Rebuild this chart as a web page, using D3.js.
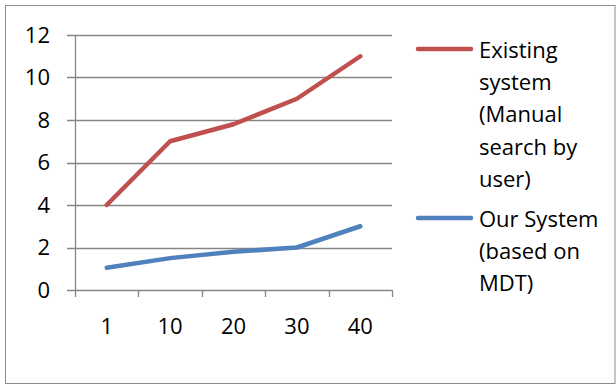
<!DOCTYPE html>
<html><head><meta charset="utf-8">
<script src="https://cdn.jsdelivr.net/npm/d3@7"></script>
<style>html,body{margin:0;padding:0;background:#fff;}svg{display:block;}</style>
</head><body>
<svg id="chart" width="616" height="385"></svg>
<script>
const categories = ["1", "10", "20", "30", "40"];
const existingSystem = [4, 7, 7.8, 9, 11];
const ourSystem = [1.05, 1.5, 1.8, 2, 3];
const yTicks = [0, 2, 4, 6, 8, 10, 12];
const seriesNames = [
  ["Existing", "system", "(Manual", "search by", "user)"],
  ["Our System", "(based on", "MDT)"]
];
const seriesColors = ["#C0504D", "#4F81BD"];

(function () {
const svg = d3.select("#chart");
const font = "'Open Sans', sans-serif";
const fs = 22;
const gridColor = "#868686";

svg.append("rect").attr("x", 5.5).attr("y", 5.5).attr("width", 609.5).attr("height", 378)
  .attr("fill", "#fff").attr("stroke", "#8c8c8c").attr("stroke-width", 1);

const pLeft = 75, pRight = 392, pTop = 35, pBottom = 290;
const x = d3.scaleBand().domain(categories).range([pLeft, pRight]).padding(0);
const y = d3.scaleLinear().domain([0, 12]).range([pBottom, pTop]);

// gridlines
svg.append("g").selectAll("line").data(yTicks).join("line")
  .attr("x1", pLeft - 8).attr("x2", pRight)
  .attr("y1", d => Math.round(y(d)) + 0.5).attr("y2", d => Math.round(y(d)) + 0.5)
  .attr("stroke", gridColor).attr("stroke-width", 1.3);

// y axis line
svg.append("line").attr("x1", pLeft + 0.5).attr("x2", pLeft + 0.5).attr("y1", pTop).attr("y2", pBottom + 0.5)
  .attr("stroke", gridColor).attr("stroke-width", 1.3);

// x axis ticks at band boundaries
const bounds = categories.map(c => x(c)).concat([pRight]);
svg.append("g").selectAll("line").data(bounds).join("line")
  .attr("x1", d => Math.round(d) + 0.5).attr("x2", d => Math.round(d) + 0.5)
  .attr("y1", pBottom).attr("y2", pBottom + 7)
  .attr("stroke", gridColor).attr("stroke-width", 1.3);

// y labels
svg.append("g").selectAll("text").data(yTicks).join("text")
  .attr("x", 50).attr("y", d => y(d)).attr("dy", "0.36em")
  .attr("text-anchor", "end").attr("font-family", font).attr("font-size", fs).attr("fill", "#000")
  .text(d => d);

// x labels
svg.append("g").selectAll("text").data(categories).join("text")
  .attr("x", d => x(d) + x.bandwidth() / 2).attr("y", 334)
  .attr("text-anchor", "middle").attr("font-family", font).attr("font-size", fs).attr("fill", "#000")
  .text(d => d);

// lines
const line = d3.line().x((d, i) => x(categories[i]) + x.bandwidth() / 2).y(d => y(d));
[existingSystem, ourSystem].forEach((s, k) => {
  svg.append("path").datum(s).attr("d", line).attr("fill", "none")
    .attr("stroke", seriesColors[k]).attr("stroke-width", 4.5)
    .attr("stroke-linejoin", "round").attr("stroke-linecap", "round");
});

// legend
const legendTop = [49, 218];
const lh = 32.2;
seriesNames.forEach((lines, k) => {
  svg.append("line").attr("x1", 418).attr("x2", 471)
    .attr("y1", legendTop[k]).attr("y2", legendTop[k])
    .attr("stroke", seriesColors[k]).attr("stroke-width", 4.5).attr("stroke-linecap", "round");
  svg.append("g").selectAll("text").data(lines).join("text")
    .attr("x", 479).attr("y", (d, i) => legendTop[k] + 9 + i * lh)
    .attr("font-family", font).attr("font-size", fs).attr("fill", "#000")
    .text(d => d);
});
})();
</script>
</body></html>
